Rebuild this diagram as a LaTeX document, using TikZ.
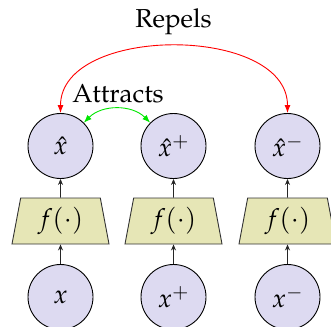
\documentclass[tikz,border=0pt]{standalone}
\usepackage[T1]{fontenc}
\usepackage{mathpazo}
\usetikzlibrary{shapes.geometric,arrows.meta}
\definecolor{circfill}{RGB}{221,218,241}
\definecolor{trapfill}{RGB}{230,230,182}
\definecolor{attrgreen}{RGB}{0,230,0}
\begin{document}
\begin{tikzpicture}[x=1pt,y=-1pt,
  font=\fontsize{26}{31}\selectfont,
  vnode/.style={circle,draw=black,line width=0.9pt,fill=circfill,minimum size=65pt,inner sep=0pt},
  fbox/.style={trapezium,trapezium stretches body,trapezium angle=72.5,draw=black!80,line width=0.9pt,fill=trapfill,minimum width=97pt,minimum height=46pt,inner sep=0pt},
  uparrow/.style={-{Stealth[length=6pt,width=5pt]},line width=0.8pt,black!85},
  relarrow/.style={{Latex[length=8pt,width=6pt]}-{Latex[length=8pt,width=6pt]},line width=0.9pt}]
\useasboundingbox (0,0) rectangle (331,326);
\node[vnode] (xin) at (60.5,297) {$x$};
\node[vnode] (xpin) at (173.5,297) {$x^{+}$};
\node[vnode] (xnin) at (287.5,297) {$x^{-}$};
\node[fbox] (f1) at (60.5,221) {$f(\cdot)$};
\node[fbox] (f2) at (173.5,221) {$f(\cdot)$};
\node[fbox] (f3) at (287.5,221) {$f(\cdot)$};
\node[vnode] (xh) at (60.5,146) {$\hat{x}$};
\node[vnode] (xph) at (173.5,146) {$\hat{x}^{+}$};
\node[vnode] (xnh) at (287.5,146) {$\hat{x}^{-}$};
\draw[uparrow] (xin) -- (f1);
\draw[uparrow] (xpin) -- (f2);
\draw[uparrow] (xnin) -- (f3);
\draw[uparrow] (f1) -- (xh);
\draw[uparrow] (f2) -- (xph);
\draw[uparrow] (f3) -- (xnh);
\draw[relarrow,attrgreen] (xh) to[out=45,in=135] (xph);
\draw[relarrow,red] (xh.north) to[out=90,in=90] (xnh.north);
\node (attr) at (118,94) {Attracts};
\node (rep) at (173.5,22) {Repels};
\end{tikzpicture}
\end{document}
